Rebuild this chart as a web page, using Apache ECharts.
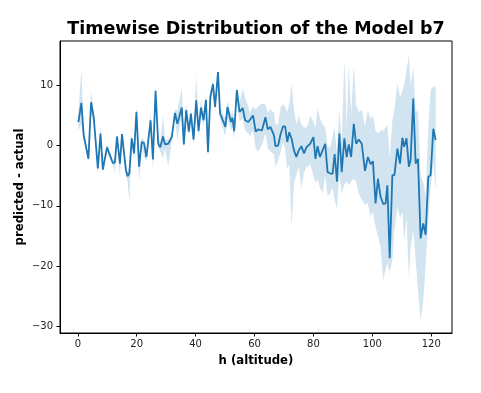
<!DOCTYPE html>
<html>
<head>
<meta charset="utf-8">
<script src="https://cdn.jsdelivr.net/npm/echarts@6/dist/echarts.min.js"></script>
<style>html,body{margin:0;padding:0;background:#fff;}#c{width:481px;height:393px;}</style>
</head>
<body>
<div id="c"></div>
<script>
// altitude values (x)
const h = [0.2,1.2,2.0,3.6,4.5,5.4,6.8,7.7,8.5,9.9,11.2,11.9,12.6,13.3,14.3,15.0,16.3,16.9,17.5,18.3,19.1,19.9,20.8,21.7,22.5,23.3,24.7,25.5,26.4,27.3,28.0,28.9,29.6,30.7,31.9,33.0,33.8,35.3,36.0,36.8,37.7,38.4,39.3,40.2,41.0,41.8,42.7,43.5,44.2,45.0,45.9,46.6,47.6,48.3,49.5,50.1,50.8,52.0,52.5,53.1,54.0,54.9,56.0,56.8,57.9,58.4,59.5,60.4,61.2,62.5,63.7,64.5,65.4,66.6,67.1,68.0,68.9,69.7,70.4,71.1,71.8,72.6,73.4,74.2,75.0,75.9,76.8,77.6,78.1,78.9,80.0,80.7,81.4,82.2,83.1,84.0,84.8,85.6,86.5,87.2,88.0,88.8,89.6,90.5,91.3,92.0,92.8,93.7,94.5,95.4,96.4,97.5,98.5,99.4,100.2,101.1,101.9,102.8,103.7,104.5,105.1,105.9,106.8,107.5,108.5,109.4,110.2,110.8,111.6,112.4,113.0,113.9,114.7,115.5,116.4,117.3,118.1,119.0,119.8,120.7,121.5];
// mean of predicted - actual
const mean = [3.9,7.1,1.7,-2.2,7.2,4.7,-3.8,2.0,-4.0,-0.3,-2.0,-2.9,-2.8,1.5,-3.0,1.9,-4.0,-5.1,-4.6,1.2,-1.3,5.6,-3.5,0.6,0.4,-1.9,4.2,-2.3,9.1,0.3,-0.3,1.5,0.2,0.3,1.4,5.4,3.6,6.3,0.2,5.9,2.3,5.3,1.0,7.5,2.4,6.3,4.2,7.6,-1.1,8.1,10.2,6.4,12.2,5.3,3.9,3.1,6.4,3.9,4.6,2.4,9.2,5.6,6.2,4.2,3.9,3.6,5.0,2.3,2.7,2.5,4.7,2.7,3.1,1.7,-0.1,0.0,2.0,3.2,3.2,0.6,2.2,1.1,-0.8,-1.9,-0.8,-0.1,-1.3,-0.3,-0.5,0.3,1.4,-2.2,-0.1,-1.9,-0.8,0.3,-4.4,-4.6,-4.7,-1.4,-6.0,2.0,-4.4,1.2,-1.9,0.2,-1.9,3.6,0.3,1.0,0.3,-4.2,-1.9,-3.1,-2.6,-9.6,-5.5,-8.5,-9.7,-9.6,-6.6,-18.7,-4.9,-4.9,-0.5,-3.0,1.3,-0.2,1.2,-3.5,-2.4,7.8,-3.0,-2.2,-15.4,-12.9,-14.8,-5.2,-4.9,2.8,0.9];
// confidence band lower bound
const lower = [2.5,3.5,0.8,-2.8,5.5,4.0,-4.6,1.0,-4.5,-0.8,-2.5,-3.3,-4.5,1.0,-5.5,1.3,-4.8,-6.0,-9.4,0.5,-2.2,4.5,-6.0,0.0,-2.0,-2.6,3.5,-4.2,8.0,-0.3,-1.0,-2.2,-0.5,-3.5,0.8,4.5,1.0,5.0,-0.5,4.5,1.5,4.5,0.0,6.0,1.5,5.0,3.0,6.5,-1.8,7.0,9.0,5.5,11.0,4.2,2.5,1.5,4.5,2.5,3.0,1.0,7.5,4.0,4.5,2.5,2.0,1.5,2.5,-0.5,-1.0,0.0,2.0,-0.5,-1.0,-1.5,-3.5,-2.5,-1.0,0.5,-0.5,-4.0,-3.0,-13.5,-6.0,-5.0,-3.5,-7.0,-4.5,-3.5,-3.5,-3.0,-5.0,-6.3,-5.5,-7.0,-7.9,-5.0,-8.3,-8.0,-7.0,-9.0,-10.4,-5.0,-8.0,-6.5,-6.0,-6.5,-6.0,-5.5,-6.0,-8.0,-9.0,-9.8,-9.6,-11.8,-11.0,-13.5,-15.0,-16.8,-22.3,-20.6,-19.5,-21.0,-19.0,-14.0,-10.2,-12.0,-11.0,-15.8,-12.0,-21.8,-17.0,-14.0,-19.0,-24.0,-29.0,-25.7,-20.0,-12.0,-6.9,-3.0,-7.5];
// confidence band upper bound
const upper = [5.5,12.8,2.6,-1.6,9.2,5.4,-3.0,3.5,-3.5,0.2,-1.5,-2.5,-2.0,2.0,-2.5,2.5,-3.0,-4.5,-3.5,2.0,-0.5,6.5,-2.5,1.2,1.0,-1.2,5.5,-1.5,9.8,1.5,0.5,5.0,1.0,1.0,2.0,6.0,5.8,9.6,1.5,7.0,3.0,6.0,2.0,11.7,3.5,7.7,5.5,8.5,0.5,9.0,11.0,7.5,12.8,6.5,5.0,4.5,7.5,5.0,6.0,4.0,9.8,7.0,9.5,8.0,6.5,5.5,6.5,6.0,6.5,7.0,6.8,5.5,6.0,5.5,3.5,3.5,6.5,6.8,6.5,5.5,7.0,10.3,6.0,3.5,5.0,3.5,3.0,3.0,3.5,5.0,4.0,3.0,6.2,4.5,3.5,3.0,0.0,-0.5,1.5,3.0,-1.5,6.0,0.5,14.4,3.0,13.3,5.0,13.3,6.7,5.6,5.9,3.2,5.8,4.5,5.0,2.5,2.0,2.5,2.5,3.0,3.5,-2.0,4.2,6.0,10.3,8.0,9.2,10.0,12.5,15.0,10.0,13.2,5.5,6.0,-5.0,-6.0,-8.5,3.0,9.2,9.8,9.8];
const xTicks = [0,20,40,60,80,100,120];
const yTicks = [-30,-20,-10,0,10];

const chart = echarts.init(document.getElementById('c'), null, {renderer:'canvas'});
const FONT = 'DejaVu Sans';
const fmt = v => String(v).replace('-', '\u2212');
const option = {
  animation:false,
  backgroundColor:'#fff',
  title:{
    text:'Timewise Distribution of the Model b7',
    left:251, top:15, textAlign:'center',
    textStyle:{fontFamily:FONT, fontWeight:'bold', fontSize:17.5, color:'#000'}
  },
  grid:{left:60, right:29, top:41, bottom:60, show:true, borderColor:'#000', borderWidth:1, backgroundColor:'transparent'},
  xAxis:{
    type:'value', min:-6.05, max:127.05,
    name:'h (altitude)', nameLocation:'middle', nameGap:22, nameMoveOverlap:false,
    nameTextStyle:{fontFamily:FONT, fontWeight:'bold', fontSize:11.7, color:'#000'},
    axisLine:{show:true, onZero:false, lineStyle:{color:'#000', width:1}},
    axisTick:{show:true, length:3.5, customValues:xTicks, lineStyle:{color:'#000'}},
    axisLabel:{customValues:xTicks, margin:6, fontFamily:FONT, fontSize:10, color:'#222', formatter:fmt},
    splitLine:{show:false}
  },
  yAxis:{
    type:'value', min:-31.1, max:17.35,
    name:'predicted - actual', nameLocation:'middle', nameGap:34, nameMoveOverlap:false,
    nameTextStyle:{fontFamily:FONT, fontWeight:'bold', fontSize:11.7, color:'#000'},
    axisLine:{show:true, onZero:false, lineStyle:{color:'#000', width:1}},
    axisTick:{show:true, length:3.5, customValues:yTicks, lineStyle:{color:'#000'}},
    axisLabel:{customValues:yTicks, margin:7, fontFamily:FONT, fontSize:10, color:'#222', formatter:fmt},
    splitLine:{show:false}
  },
  series:[
    {
      type:'custom',
      data:[[h[0], mean[0]]],
      z:1,
      silent:true,
      renderItem:function(params, api){
        const pts = [];
        for(let i=0;i<h.length;i++) pts.push(api.coord([h[i], upper[i]]));
        for(let i=h.length-1;i>=0;i--) pts.push(api.coord([h[i], lower[i]]));
        return {type:'polygon', shape:{points:pts}, style:{fill:'rgba(31,119,180,0.2)', stroke:null}};
      }
    },
    {
      type:'line',
      data:h.map((x,i)=>[x, mean[i]]),
      showSymbol:false, symbol:'none',
      z:3,
      lineStyle:{color:'#1f77b4', width:1.8},
      silent:true
    }
  ]
};
chart.setOption(option);
</script>
</body>
</html>
